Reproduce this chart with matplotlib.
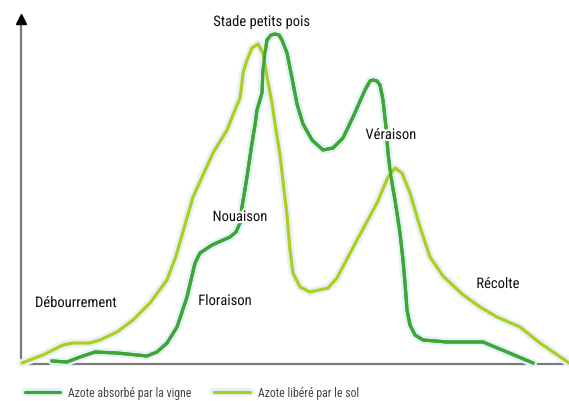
import matplotlib.pyplot as plt
import matplotlib.patheffects as pe
from matplotlib import font_manager

# Curve readings (x along season, y = nitrogen level, arbitrary units)
absorbe_x = [31, 46, 59, 74, 96, 126, 136, 146, 156, 166, 174, 179, 191, 209, 215, 219, 221, 226, 231, 234,
             236, 241, 242, 244, 246, 250, 254, 258, 261, 266, 271, 276, 282, 291, 302, 312, 322, 332, 344, 349,
             352, 356, 359, 362, 365, 367, 370, 374, 379, 382, 384, 386, 389, 394, 402, 426, 462, 486, 512]
absorbe_y = [3, 2, 7, 12, 11, 8, 12, 21, 37, 67, 101, 111, 119, 127, 132, 141, 157, 187, 221, 239,
             254, 271, 294, 311, 324, 329, 330, 329, 324, 311, 286, 260, 240, 224, 214, 216, 226, 247, 274, 283,
             284, 283, 279, 264, 237, 211, 187, 164, 131, 104, 81, 54, 39, 29, 24, 22, 22, 12, 1]

libere_x = [1, 22, 42, 52, 69, 79, 96, 112, 129, 146, 155, 172, 192, 206, 214, 219, 221, 222, 226, 231,
            237, 242, 246, 251, 255, 259, 263, 266, 269, 272, 279, 289, 307, 316, 336, 356, 367, 374, 381, 389,
            399, 409, 422, 441, 459, 476, 499, 519, 548]
libere_y = [1, 9, 19, 21, 21, 24, 32, 44, 61, 84, 108, 167, 211, 234, 254, 266, 281, 291, 304, 316,
            320, 311, 287, 261, 234, 209, 174, 149, 114, 91, 77, 72, 76, 86, 124, 161, 187, 196, 191, 171,
            137, 107, 88, 70, 57, 47, 37, 21, 1]

stades = ['Débourrement', 'Floraison', 'Nouaison', 'Stade petits pois', 'Véraison', 'Récolte']
stades_x = [55, 204, 219, 241, 370, 477]
stades_y = [61, 63, 147, 342, 229, 80]

vert_fonce = '#3fa535'
vert_clair = '#b2cc1e'
halo = [pe.withStroke(linewidth=6, foreground='#e4f3f8')]

names = {f.name for f in font_manager.fontManager.ttflist}
font = 'DejaVu Sans'
for cand in ['Roboto Condensed', 'Liberation Sans Narrow', 'Roboto', 'Liberation Sans']:
    if cand in names:
        font = cand
        break
plt.rcParams['font.family'] = font

fig = plt.figure(figsize=(5.69, 4.01), dpi=100)
ax = fig.add_axes([21 / 569, 37 / 401, 548 / 569, 350 / 401])
ax.set_xlim(0, 548)
ax.set_ylim(0, 350)
for s in ax.spines.values():
    s.set_visible(False)
ax.set_xticks([])
ax.set_yticks([])

# axes: gray lines and black arrowhead on y
ax.plot([0, 548], [0, 0], color='#7a7a7a', lw=1.6, clip_on=False, zorder=1)
ax.plot([0, 0], [0, 344], color='#7a7a7a', lw=1.6, clip_on=False, zorder=1)
ax.plot(0, 345, marker='^', color='black', markersize=7, clip_on=False, zorder=2)

l1, = ax.plot(absorbe_x, absorbe_y, color=vert_fonce, lw=2.3, solid_joinstyle='round',
              solid_capstyle='round', path_effects=halo, clip_on=False, zorder=3)
l2, = ax.plot(libere_x, libere_y, color=vert_clair, lw=2.3, solid_joinstyle='round',
              solid_capstyle='round', path_effects=halo, clip_on=False, zorder=3)
# dark line sits above the light one where they cross
ax.plot(absorbe_x, absorbe_y, color=vert_fonce, lw=2.3, solid_joinstyle='round', clip_on=False, zorder=4)

for txt, x, y in zip(stades, stades_x, stades_y):
    ax.text(x, y, txt, ha='center', va='center', fontsize=10.5, color='#111111',
            zorder=5, path_effects=[pe.withStroke(linewidth=3, foreground='white')])

fig.legend([l1, l2], ['Azote absorbé par la vigne', 'Azote libéré par le sol'],
           loc='center left', bbox_to_anchor=(14 / 569, 1 - 393 / 401), ncol=2, frameon=False,
           fontsize=8.5, handlelength=3.0, handletextpad=0.7, columnspacing=1.9,
           labelcolor='#444444')

fig.savefig('out.png', dpi=100)
